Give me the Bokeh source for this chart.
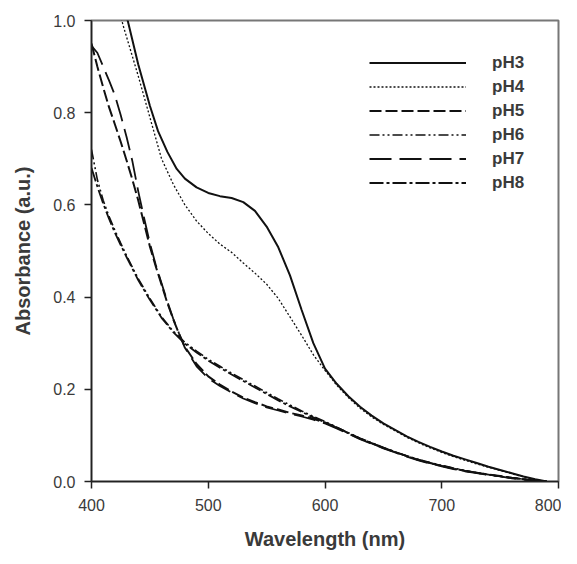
from bokeh.plotting import figure
from bokeh.models import Range1d, FixedTicker, PrintfTickFormatter, Legend, LegendItem
from bokeh.embed import file_html
from bokeh.resources import INLINE

# ---- data ----
wl_ph3 = [425, 431, 440, 450, 457, 465, 473, 480, 490, 500, 510, 520, 530, 540, 550, 560,
          570, 580, 590, 600, 610, 620, 630, 640, 650, 660, 670, 680, 690, 700, 710, 720,
          730, 740, 750, 760, 770, 780, 790]
abs_ph3 = [1.07, 1.00, 0.905, 0.815, 0.76, 0.715, 0.678, 0.657, 0.638, 0.626, 0.619, 0.615,
           0.606, 0.587, 0.553, 0.508, 0.447, 0.372, 0.300, 0.245, 0.212, 0.185, 0.162, 0.143,
           0.126, 0.112, 0.098, 0.086, 0.075, 0.065, 0.056, 0.048, 0.040, 0.032, 0.025, 0.018,
           0.011, 0.005, 0.0]

wl_ph4 = [423, 427, 440, 450, 460, 470, 480, 490, 500, 510, 520, 530, 540, 550, 560, 570,
          580, 590, 600, 610, 620, 630, 640, 650, 660, 670, 680, 690, 700, 710, 720, 730,
          740, 750, 760, 770, 780, 790]
abs_ph4 = [1.03, 0.99, 0.88, 0.79, 0.70, 0.645, 0.60, 0.565, 0.538, 0.515, 0.497, 0.474,
           0.452, 0.428, 0.397, 0.357, 0.317, 0.275, 0.241, 0.209, 0.182, 0.159, 0.140, 0.124,
           0.110, 0.096, 0.084, 0.073, 0.063, 0.054, 0.046, 0.038, 0.031, 0.024, 0.017, 0.010,
           0.004, 0.0]

wl_steep = [400, 405, 410, 415, 420, 425, 430, 435, 440, 445, 450, 455, 460, 465, 470, 475,
            480, 490, 500, 510, 520, 530, 540, 550, 560, 570, 580, 590, 600, 610, 620, 630,
            640, 650, 660, 670, 680, 690, 700, 710, 720, 730, 740, 750, 760, 770, 780, 790]
abs_ph5 = [0.95, 0.90, 0.855, 0.812, 0.775, 0.737, 0.697, 0.655, 0.61, 0.56, 0.51, 0.467,
           0.427, 0.387, 0.352, 0.32, 0.292, 0.255, 0.228, 0.21, 0.195, 0.182, 0.172, 0.163,
           0.156, 0.149, 0.143, 0.136, 0.128, 0.117, 0.105, 0.093, 0.083, 0.073, 0.064, 0.055,
           0.047, 0.040, 0.034, 0.028, 0.023, 0.019, 0.015, 0.012, 0.008, 0.005, 0.002, 0.0]
abs_ph7 = [0.945, 0.93, 0.90, 0.87, 0.838, 0.795, 0.748, 0.695, 0.63, 0.572, 0.517, 0.47,
           0.43, 0.39, 0.353, 0.321, 0.29, 0.25, 0.224, 0.207, 0.193, 0.180, 0.170, 0.161,
           0.154, 0.147, 0.141, 0.134, 0.126, 0.115, 0.104, 0.092, 0.082, 0.072, 0.063, 0.054,
           0.046, 0.039, 0.033, 0.027, 0.022, 0.018, 0.014, 0.011, 0.007, 0.004, 0.001, 0.0]

wl_low = [400, 405, 410, 415, 420, 425, 430, 440, 450, 460, 470, 480, 490, 500, 510, 520,
          530, 540, 550, 560, 570, 580, 590, 600, 610, 620, 630, 640, 650, 660, 670, 680,
          690, 700, 710, 720, 730, 740, 750, 760, 770, 780, 790]
abs_ph6 = [0.72, 0.655, 0.61, 0.575, 0.545, 0.517, 0.49, 0.44, 0.397, 0.357, 0.326, 0.302,
           0.283, 0.265, 0.25, 0.235, 0.221, 0.207, 0.193, 0.179, 0.166, 0.153, 0.141, 0.130,
           0.118, 0.106, 0.094, 0.084, 0.074, 0.064, 0.056, 0.048, 0.041, 0.035, 0.029, 0.024,
           0.019, 0.015, 0.011, 0.008, 0.005, 0.002, 0.0]
abs_ph8 = [0.68, 0.64, 0.603, 0.57, 0.54, 0.513, 0.487, 0.437, 0.394, 0.355, 0.324, 0.299,
           0.28, 0.262, 0.247, 0.232, 0.218, 0.204, 0.19, 0.176, 0.163, 0.151, 0.139, 0.128,
           0.117, 0.105, 0.093, 0.083, 0.073, 0.064, 0.055, 0.047, 0.040, 0.034, 0.028, 0.023,
           0.019, 0.015, 0.011, 0.008, 0.005, 0.002, 0.0]

x_ticks = [400, 500, 600, 700, 800]
y_ticks = [0.0, 0.2, 0.4, 0.6, 0.8, 1.0]
labels = ["pH3", "pH4", "pH5", "pH6", "pH7", "pH8"]

# ---- figure ----
p = figure(width=561, height=556, output_backend="svg", toolbar_location=None,
           x_range=Range1d(400, 800), y_range=Range1d(0, 1.0),
           min_border_left=91, min_border_right=3, min_border_top=20, min_border_bottom=75)
p.background_fill_color = "white"
p.border_fill_color = "white"
p.outline_line_color = "#777777"
p.outline_line_width = 2
p.xgrid.visible = False
p.ygrid.visible = False

FONT = "Liberation Sans"
TXT = "#3a3a3a"
for ax in (p.xaxis[0], p.yaxis[0]):
    ax.axis_line_color = "#222222"
    ax.axis_line_width = 1.5
    ax.major_tick_line_color = "#222222"
    ax.major_tick_line_width = 1.5
    ax.major_tick_out = 7
    ax.major_tick_in = 0
    ax.minor_tick_line_color = None
    ax.major_label_text_font = FONT
    ax.major_label_text_font_size = "16px"
    ax.major_label_text_color = TXT
    ax.axis_label_text_font = FONT
    ax.axis_label_text_font_size = "20px"
    ax.axis_label_text_font_style = "bold"
    ax.axis_label_text_color = TXT

p.xaxis[0].ticker = FixedTicker(ticks=x_ticks)
p.yaxis[0].ticker = FixedTicker(ticks=y_ticks)
p.yaxis[0].formatter = PrintfTickFormatter(format="%.1f")
p.xaxis[0].axis_label = "Wavelength (nm)"
p.yaxis[0].axis_label = "Absorbance (a.u.)"
p.xaxis[0].major_label_standoff = 10
p.yaxis[0].major_label_standoff = 9
p.xaxis[0].axis_label_standoff = 14
p.yaxis[0].axis_label_standoff = 16

C = "#111111"
r3 = p.line(wl_ph3, abs_ph3, line_color=C, line_width=2)
r4 = p.line(wl_ph4, abs_ph4, line_color=C, line_width=1.3, line_dash="2 2")
r5 = p.line(wl_steep, abs_ph5, line_color=C, line_width=2, line_dash="12 4")
r6 = p.line(wl_low, abs_ph6, line_color=C, line_width=1.6, line_dash="10 3 2 3 2 3")
r7 = p.line(wl_steep, abs_ph7, line_color=C, line_width=1.8, line_dash="22 8")
r8 = p.line(wl_low, abs_ph8, line_color=C, line_width=1.8, line_dash="14 3 3 3")

legend = Legend(items=[LegendItem(label=l, renderers=[r]) for l, r in
                       zip(labels, [r3, r4, r5, r6, r7, r8])],
                location=(278, 288), padding=0, margin=0, spacing=3,
                glyph_width=97, glyph_height=21, label_height=21, label_standoff=26,
                label_text_font=FONT, label_text_font_size="17px",
                label_text_font_style="bold", label_text_color=TXT,
                border_line_color=None, background_fill_alpha=0)
p.add_layout(legend, "center")

open("out.html", "w").write(file_html(p, INLINE))
